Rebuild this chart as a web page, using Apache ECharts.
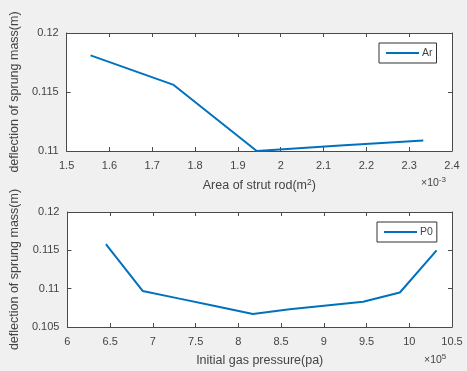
<!DOCTYPE html>
<html>
<head>
<meta charset="utf-8">
<script src="https://cdn.jsdelivr.net/npm/echarts@6/dist/echarts.min.js"></script>
<style>
html,body{margin:0;padding:0;background:#f0f0f0;}
#chart{width:467px;height:371px;}
</style>
</head>
<body>
<div id="chart"></div>
<script>
// Top subplot: Area of strut rod (x10^-3 m^2) vs deflection
const arName = 'Ar';
const arX = [1.556, 1.750, 1.944, 2.139, 2.333];
const arY = [0.1181, 0.1156, 0.1100, 0.11046, 0.1109];
const arXTicks = {min: 1.5, max: 2.4, interval: 0.1};
const arYTicks = {min: 0.11, max: 0.12, interval: 0.005};

// Bottom subplot: Initial gas pressure (x10^5 pa) vs deflection
const p0Name = 'P0';
const p0X = [6.45, 6.88, 7.31, 7.74, 8.17, 8.60, 9.03, 9.46, 9.89, 10.32];
const p0Y = [0.1158, 0.1097, 0.1087, 0.1077, 0.1067, 0.1073, 0.1078, 0.1083, 0.1095, 0.1150];
const p0XTicks = {min: 6, max: 10.5, interval: 0.5};
const p0YTicks = {min: 0.105, max: 0.12, interval: 0.005};

const yTitle = 'deflection of sprung mass(m)';
const arXTitle = 'Area of strut rod(m{sup|2})';
const p0XTitle = 'Initial gas pressure(pa)';
const arExp = '×10{sup|-3}';
const p0Exp = '×10{sup|5}';

const FONT = 'Liberation Sans, Arial, sans-serif';
const AX = '#4a4a4a';
const TXT = '#444';
const LINE = '#0072BD';

function pairs(xs, ys){ return xs.map((x,i)=>[x, ys[i]]); }

const supRich = {sup: {fontSize: 8.5, verticalAlign: 'top', color: TXT, fontFamily: FONT, padding:[0,0,7,0]}};

function mainX(grid, t, name){
  return {type:'value', gridIndex:grid, position:'bottom', min:t.min, max:t.max, interval:t.interval,
    axisLine:{show:true, lineStyle:{color:AX, width:1}},
    axisTick:{show:true, inside:true, length:4, lineStyle:{color:AX}},
    axisLabel:{color:TXT, fontSize:11, fontFamily:FONT, margin:9},
    splitLine:{show:false},
    name:name, nameLocation:'middle', nameGap:27,
    nameTextStyle:{color:TXT, fontSize:12.5, fontFamily:FONT, rich: supRich}};
}
function topX(grid, t){
  return {type:'value', gridIndex:grid, position:'top', min:t.min, max:t.max, interval:t.interval,
    axisLine:{show:true, onZero:false, lineStyle:{color:AX, width:1}},
    axisTick:{show:true, inside:true, length:4, lineStyle:{color:AX}},
    axisLabel:{show:false}, splitLine:{show:false}};
}
function mainY(grid, t){
  return {type:'value', gridIndex:grid, position:'left', min:t.min, max:t.max, interval:t.interval,
    axisLine:{show:true, lineStyle:{color:AX, width:1}},
    axisTick:{show:true, inside:true, length:4, lineStyle:{color:AX}},
    axisLabel:{color:TXT, fontSize:11, fontFamily:FONT, margin:8},
    splitLine:{show:false},
    name:yTitle, nameLocation:'middle', nameGap:40,
    nameTextStyle:{color:TXT, fontSize:12.5, fontFamily:FONT}};
}
function rightY(grid, t){
  return {type:'value', gridIndex:grid, position:'right', min:t.min, max:t.max, interval:t.interval,
    axisLine:{show:true, onZero:false, lineStyle:{color:AX, width:1}},
    axisTick:{show:true, inside:true, length:4, lineStyle:{color:AX}},
    axisLabel:{show:false}, splitLine:{show:false}};
}
function legendBox(name, left, top){
  return {data:[name], left:left, top:top, orient:'horizontal',
    backgroundColor:'#fff', borderColor:'#333', borderWidth:1,
    padding:[4,4,4,7], itemWidth:33, itemHeight:2, itemGap:4,
    icon:'path://M0,0 L33,0 L33,2 L0,2 Z',
    itemStyle:{color:LINE},
    textStyle:{color:TXT, fontSize:10.5, fontFamily:FONT, lineHeight:12, padding:[0,0,0,-2]}};
}

const chart = echarts.init(document.getElementById('chart'), null, {renderer:'canvas'});
chart.setOption({
  backgroundColor:'#f0f0f0',
  animation:false,
  grid:[
    {left:63, top:33, width:389, height:118, show:true, backgroundColor:'#fff', borderWidth:0},
    {left:63, top:212, width:389, height:115, show:true, backgroundColor:'#fff', borderWidth:0}
  ],
  xAxis:[mainX(0, arXTicks, arXTitle), topX(0, arXTicks), mainX(1, p0XTicks, p0XTitle), topX(1, p0XTicks)],
  yAxis:[mainY(0, arYTicks), rightY(0, arYTicks), mainY(1, p0YTicks), rightY(1, p0YTicks)],
  legend:[legendBox(arName, 379, 43), legendBox(p0Name, 377, 222)],
  series:[
    {name:arName, type:'line', xAxisIndex:0, yAxisIndex:0, data:pairs(arX, arY),
      symbol:'none', lineStyle:{color:LINE, width:2}, itemStyle:{color:LINE}},
    {name:p0Name, type:'line', xAxisIndex:2, yAxisIndex:2, data:pairs(p0X, p0Y),
      symbol:'none', lineStyle:{color:LINE, width:2}, itemStyle:{color:LINE}}
  ],
  graphic:[
    {type:'text', left:421, top:176, style:{text:arExp, fill:TXT, font:'10.5px '+FONT,
      rich:{sup:{fontSize:8, verticalAlign:'top', fill:TXT, fontFamily:FONT, padding:[0,0,6,0]}}}},
    {type:'text', left:424, top:353, style:{text:p0Exp, fill:TXT, font:'10.5px '+FONT,
      rich:{sup:{fontSize:8, verticalAlign:'top', fill:TXT, fontFamily:FONT, padding:[0,0,6,0]}}}}
  ]
});
</script>
</body>
</html>
